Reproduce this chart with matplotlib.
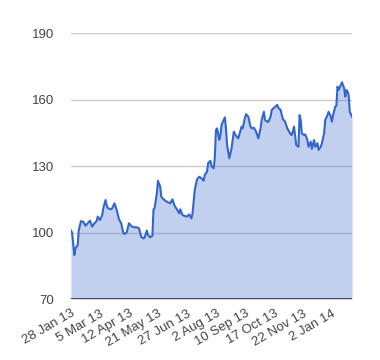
import matplotlib
matplotlib.use("Agg")
import matplotlib.pyplot as plt

# trading-day number of each sampled point (0 = 28 Jan 13) and its close
day = [0, 1, 3, 4, 6, 7, 9, 11, 13, 15, 17, 19, 21, 23, 24, 26, 28, 29, 31, 32,
       33, 36, 37, 39, 41, 43, 45, 47, 48, 50, 52, 54, 56, 59, 61, 63, 65, 66, 68, 69,
       71, 73, 74, 75, 77, 78, 80, 81, 83, 86, 89, 91, 93, 95, 97, 98, 100, 102, 104, 106,
       108, 109, 111, 113, 115, 117, 119, 120, 122, 123, 125, 126, 128, 129, 130, 131, 133, 134, 135, 137,
       138, 139, 140, 142, 144, 145, 146, 148, 150, 153, 154, 156, 157, 159, 161, 162, 164, 166, 168, 170,
       171, 173, 174, 176, 177, 179, 180, 182, 185, 186, 188, 190, 192, 194, 197, 198, 200, 202, 204, 205,
       206, 207, 209, 210, 212, 213, 215, 216, 218, 219, 221, 222, 224, 225, 227, 228, 230, 231, 233, 234,
       235, 237, 238, 239, 240, 242, 243, 245, 246, 247, 248, 249, 250, 252]
price = [101.0, 100.0, 90.0, 93.0, 94.5, 101.3, 105.3, 105.0, 103.2, 104.3,
         105.5, 102.8, 104.3, 105.3, 107.3, 105.8, 108.0, 111.1, 114.8, 112.5,
         111.1, 110.6, 111.1, 113.3, 110.3, 106.2, 104.3, 99.8, 99.5, 100.2,
         104.3, 103.1, 102.5, 102.5, 102.0, 98.2, 97.5, 97.8, 101.0, 99.0,
         98.0, 98.6, 110.6, 111.1, 117.8, 123.5, 120.8, 116.3, 115.1, 114.0,
         113.3, 115.1, 112.1, 110.6, 108.8, 110.6, 108.0, 107.6, 107.3, 108.3,
         106.5, 108.8, 119.3, 124.1, 125.3, 124.6, 123.5, 126.1, 127.6, 131.4,
         132.5, 130.1, 129.1, 134.3, 146.4, 147.1, 141.9, 144.1, 148.6, 150.9,
         152.1, 147.1, 139.6, 133.6, 138.1, 141.9, 145.6, 143.8, 142.6, 147.9,
         147.1, 151.9, 153.5, 152.4, 147.9, 147.1, 147.4, 145.6, 142.6, 147.1,
         150.9, 154.6, 150.9, 150.1, 150.1, 152.4, 155.4, 156.4, 157.7, 156.4,
         155.4, 151.3, 150.1, 147.1, 144.4, 144.1, 147.9, 139.6, 138.8, 153.1,
         150.9, 144.9, 144.1, 144.4, 141.9, 138.8, 141.1, 137.8, 141.9, 138.8,
         140.4, 137.4, 138.8, 140.4, 144.9, 150.9, 153.1, 154.6, 152.4, 150.1,
         153.1, 156.9, 157.3, 165.9, 164.4, 166.7, 167.9, 165.2, 161.4, 164.4,
         163.7, 162.2, 154.6, 152.4]

tick_days = [0, 26, 52, 78, 104, 130, 156, 182, 208, 234]
tick_labels = ["28 Jan 13", "5 Mar 13", "12 Apr 13", "21 May 13", "27 Jun 13",
               "2 Aug 13", "10 Sep 13", "17 Oct 13", "22 Nov 13", "2 Jan 14"]
y_ticks = [70, 100, 130, 160, 190]

plt.rcParams["font.family"] = ["Liberation Sans", "DejaVu Sans"]

fig = plt.figure(figsize=(3.8, 3.6), dpi=100)
ax = fig.add_axes([0.1868, 0.1686, 0.7395, 0.7389])

ax.fill_between(day, price, 70, color="#3366cc", alpha=0.3, linewidth=0, zorder=2)
ax.plot(day, price, color="#3366cc", linewidth=1.5, zorder=3)

ax.set_xlim(0, 252)
ax.set_ylim(70, 190)
ax.set_yticks(y_ticks)
ax.set_xticks(tick_days)
ax.set_xticklabels(tick_labels, rotation=30, ha="right", va="top",
                   rotation_mode="anchor")

ax.grid(axis="y", color="#cccccc", linewidth=1, zorder=1)
ax.set_axisbelow(True)
ax.axhline(70, color="#333333", linewidth=1.2, zorder=4)

for s in ax.spines.values():
    s.set_visible(False)
ax.tick_params(axis="both", length=0, labelsize=9.5, labelcolor="#444444")
ax.tick_params(axis="y", pad=12)
ax.tick_params(axis="x", pad=6)

fig.savefig("out.png", dpi=100)
